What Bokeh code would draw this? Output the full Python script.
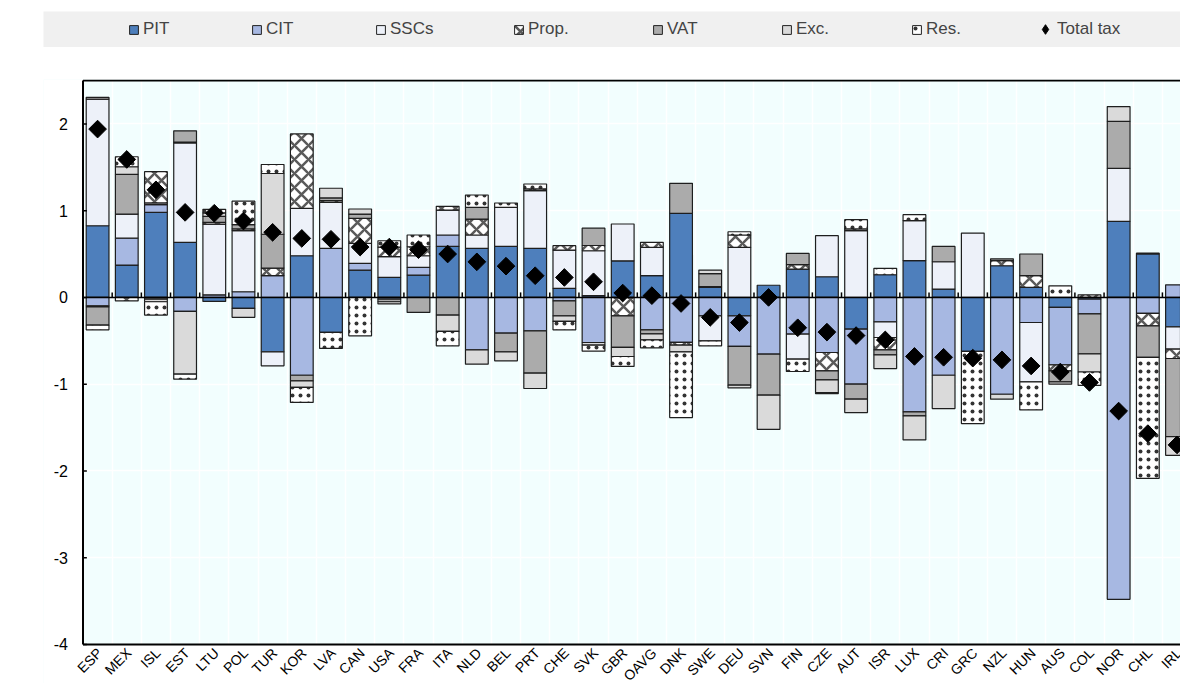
import numpy as np
from bokeh.plotting import figure
from bokeh.models import Range1d, FixedTicker, Legend, LegendItem
from bokeh.core.properties import value
from bokeh.layouts import column
from bokeh.embed import file_html
from bokeh.resources import INLINE

countries = ["ESP", "MEX", "ISL", "EST", "LTU", "POL", "TUR", "KOR", "LVA", "CAN",
             "USA", "FRA", "ITA", "NLD", "BEL", "PRT", "CHE", "SVK", "GBR", "OAVG",
             "DNK", "SWE", "DEU", "SVN", "FIN", "CZE", "AUT", "ISR", "LUX", "CRI",
             "GRC", "NZL", "HUN", "AUS", "COL", "NOR", "CHL", "IRL"]

pit = [0.826, 0.373, 0.98, 0.635, -0.046, -0.127, -0.627, 0.48, -0.404, 0.315,
       0.23, 0.257, 0.588, 0.565, 0.588, 0.565, 0.104, 0.02, 0.422, 0.25,
       0.969, 0.115, -0.212, 0.14, 0.327, 0.238, -0.366, 0.261, 0.423, 0.096,
       -0.623, 0.365, 0.115, -0.115, -0.02, 0.877, 0.5, -0.339]
cit = [-0.097, 0.31, 0.089, -0.162, 0.03, 0.065, 0.25, -0.897, 0.565, 0.077,
       -0.02, 0.089, 0.131, -0.604, -0.412, -0.385, -0.04, -0.52, 0.0, -0.374,
       -0.519, -0.212, -0.353, -0.654, -0.423, -0.635, -0.634, -0.281, -1.32, -0.897,
       0.0, -1.116, -0.289, -0.662, -0.17, -3.48, -0.185, 0.145]
sscs = [1.46, 0.277, 0.02, 1.145, 0.815, 0.704, -0.162, 0.547, 0.531, 0.231,
        0.239, 0.134, 0.288, 0.154, 0.45, 0.665, 0.442, 0.518, 0.424, 0.327,
        0.0, -0.288, 0.577, 0.0, -0.289, 0.473, 0.769, -0.181, 0.461, 0.315,
        0.742, 0.0, -0.684, 0.0, 0.0, 0.611, 0.0, -0.257]
prop = [-0.013, -0.04, 0.36, 0.01, 0.02, 0.02, 0.088, 0.857, 0.02, 0.288,
        0.11, 0.104, 0.043, 0.184, 0.0, 0.02, 0.05, 0.06, -0.212, 0.058,
        -0.03, 0.01, 0.142, 0.0, 0.05, -0.212, 0.02, -0.142, 0.0, 0.0,
        0.0, 0.06, 0.135, -0.069, 0.03, 0.0, -0.142, -0.108]
vat = [-0.21, 0.458, -0.02, 0.13, 0.07, 0.05, 0.39, -0.065, 0.03, 0.05,
       -0.03, -0.173, -0.204, 0.135, -0.215, -0.488, -0.172, 0.2, -0.365, -0.046,
       0.346, 0.15, -0.447, -0.473, 0.13, -0.104, -0.173, -0.058, -0.046, 0.177,
       0.0, 0.02, 0.25, -0.127, -0.46, 0.542, -0.365, -0.9]
exc = [0.02, 0.088, -0.03, -0.723, 0.04, -0.103, 0.70, -0.076, 0.112, 0.058,
       -0.025, 0.0, -0.188, -0.166, -0.104, -0.177, -0.065, -0.03, -0.104, -0.069,
       -0.078, 0.04, -0.031, -0.393, 0.0, -0.145, -0.154, -0.158, -0.277, -0.384,
       0.0, -0.057, 0.0, -0.027, -0.21, 0.17, 0.01, -0.216]
res = [-0.054, 0.115, -0.154, -0.058, 0.04, 0.27, 0.104, -0.173, -0.184, -0.443,
       0.074, 0.135, -0.166, 0.142, 0.05, 0.057, -0.097, -0.07, -0.115, -0.092,
       -0.758, -0.058, 0.038, 0.0, -0.142, -0.014, 0.107, 0.074, 0.069, 0.0,
       -0.831, 0.0, -0.324, 0.134, -0.155, 0.0, -1.393, 0.0]
total_tax = [1.94, 1.59, 1.24, 0.98, 0.97, 0.88, 0.75, 0.68, 0.67, 0.58,
             0.58, 0.55, 0.50, 0.41, 0.36, 0.25, 0.23, 0.18, 0.05, 0.02,
             -0.07, -0.23, -0.29, 0.0, -0.35, -0.40, -0.44, -0.49, -0.68, -0.69,
             -0.70, -0.72, -0.79, -0.86, -0.98, -1.31, -1.57, -1.70]

y_ticks = [-4, -3, -2, -1, 0, 1, 2]
y_tick_labels = ["-4", "-3", "-2", "-1", "0", "1", "2"]

series_names = ["PIT", "CIT", "SSCs", "Prop.", "VAT", "Exc.", "Res."]
series_values = [pit, cit, sscs, prop, vat, exc, res]

styles = {
    "PIT": dict(fill_color="#4E7FBC"),
    "CIT": dict(fill_color="#A7B8E2"),
    "SSCs": dict(fill_color="#EDF1F9"),
    "Prop.": dict(fill_color="white", hatch_pattern="diagonal_cross",
                  hatch_color="#5A5A5A", hatch_scale=14, hatch_weight=2.5),
    "VAT": dict(fill_color="#ABABAB"),
    "Exc.": dict(fill_color="#DADADA"),
    "Res.": dict(fill_color="white", hatch_pattern="dot",
                 hatch_color="#333333", hatch_scale=8, hatch_weight=2),
}

FONT = "Liberation Sans"
n = len(countries)
xs = np.arange(n)

# ---------------- legend band ----------------
leg = figure(width=1180, height=47, output_backend="svg", toolbar_location=None,
             x_range=Range1d(0, 1), y_range=Range1d(0, 1),
             x_axis_type=None, y_axis_type=None,
             min_border_left=43, min_border_right=0, min_border_top=11, min_border_bottom=0)
leg.background_fill_color = "#F0F0F0"
leg.border_fill_color = "white"
leg.outline_line_color = None
leg.xgrid.visible = False
leg.ygrid.visible = False

legend_x = [85, 208, 332, 470, 609, 738, 868, 990]   # item offsets inside the band
common = dict(orientation="horizontal", padding=0, margin=0, border_line_color=None,
              background_fill_alpha=0, label_text_font=FONT,
              label_text_font_size="17px", label_height=20)
for name, lx in zip(series_names, legend_x):
    # single point outside the visible range: only its legend swatch shows
    r = leg.vbar(x=[5], bottom=[5], top=[6], width=0.5, line_color="#222222",
                 line_width=1, **styles[name])
    leg.add_layout(Legend(items=[LegendItem(label=name, renderers=[r])],
                          location=(lx, 8), glyph_width=11, glyph_height=11,
                          label_standoff=4, **common))
rd = leg.scatter(x=[5], y=[5], marker="diamond", size=10,
                 fill_color="black", line_color="black")
leg.add_layout(Legend(items=[LegendItem(label="Total tax", renderers=[rd])],
                      location=(legend_x[-1], 6), glyph_width=24, glyph_height=24,
                      label_standoff=0, **common))

# ---------------- main chart ----------------
W = 1180
Y0, Y1 = -4, 2.5
X0, X1 = -0.5, 37.12          # plotted category span (right side cut like the original)
X_LEFT_ROOM = -1.8542         # white room left of the value axis for its labels
Y_LABEL_ROOM = -4.45          # white room below the category axis for the names
Y_TOP = Y1 + 0.0115           # keeps the top border line fully visible
px_per_x = W / (X1 - X_LEFT_ROOM)

p = figure(width=W, height=636, output_backend="svg", toolbar_location=None,
           x_range=Range1d(X_LEFT_ROOM, X1), y_range=Range1d(Y_LABEL_ROOM, Y_TOP),
           min_border_left=0, min_border_right=0, min_border_top=32, min_border_bottom=0)
p.background_fill_color = "#F2FEFE"
p.border_fill_color = "white"
p.outline_line_color = None
p.xaxis.visible = False
p.yaxis.visible = False

boundaries = [i + 0.5 for i in range(-1, n)]
p.xgrid.ticker = FixedTicker(ticks=boundaries)
p.xgrid.grid_line_color = "white"
p.xgrid.grid_line_width = 1.5
p.ygrid.ticker = FixedTicker(ticks=y_ticks)
p.ygrid.grid_line_color = "white"
p.ygrid.grid_line_width = 1.5

# white margins (left of the value axis and below the category axis)
p.quad(left=[X_LEFT_ROOM, X_LEFT_ROOM], right=[X0, n], bottom=[Y_LABEL_ROOM, Y_LABEL_ROOM],
       top=[Y_TOP, Y0], fill_color="white", line_color=None)

pos_cum = np.zeros(n)
neg_cum = np.zeros(n)
for name, vals in zip(series_names, series_values):
    v = np.array(vals, dtype=float)
    bottom = np.where(v >= 0, pos_cum, neg_cum)
    top = bottom + v
    pos_cum = np.where(v >= 0, top, pos_cum)
    neg_cum = np.where(v < 0, top, neg_cum)
    m = v != 0
    p.vbar(x=xs[m], bottom=bottom[m], top=top[m], width=0.78,
           line_color="#1E1E1E", line_width=1.2, **styles[name])

# zero line, top border and bottom axis line
tick_len = 5.0 / 86.7  # about 5 px in data units
p.segment(x0=[X0, X0, X0], y0=[0, Y1, Y0], x1=[n, n, n], y1=[0, Y1, Y0],
          line_color="black", line_width=[1.5, 2, 2])
# small upward category ticks on the zero line
p.segment(x0=boundaries[1:], y0=[0] * n, x1=boundaries[1:], y1=[tick_len] * n,
          line_color="black", line_width=1.5)

p.scatter(x=xs, y=total_tax, marker="square", angle=np.pi / 4, size=12.5,
          fill_color="black", line_color="black")

# value axis: line, inward ticks and labels
p.segment(x0=[X0], y0=[Y0], x1=[X0], y1=[Y1], line_color="black", line_width=2)
p.segment(x0=[X0] * len(y_ticks), y0=y_ticks, x1=[X0 + 4 / px_per_x] * len(y_ticks),
          y1=y_ticks, line_color="black", line_width=1.5)
p.text(x=[X0] * len(y_ticks), y=y_ticks, text=y_tick_labels, x_offset=-15,
       text_align="right", text_baseline="middle", text_font=value(FONT),
       text_font_size="16px", text_color="black")

# rotated country names under the category axis
p.text(x=xs, y=[Y0] * n, text=countries, angle=np.pi / 4,
       text_align="right", text_baseline="middle", x_offset=2, y_offset=6,
       text_font=value(FONT), text_font_size="14px", text_color="black")

layout = column(leg, p, spacing=0)
open("out.html", "w").write(file_html(layout, INLINE))
